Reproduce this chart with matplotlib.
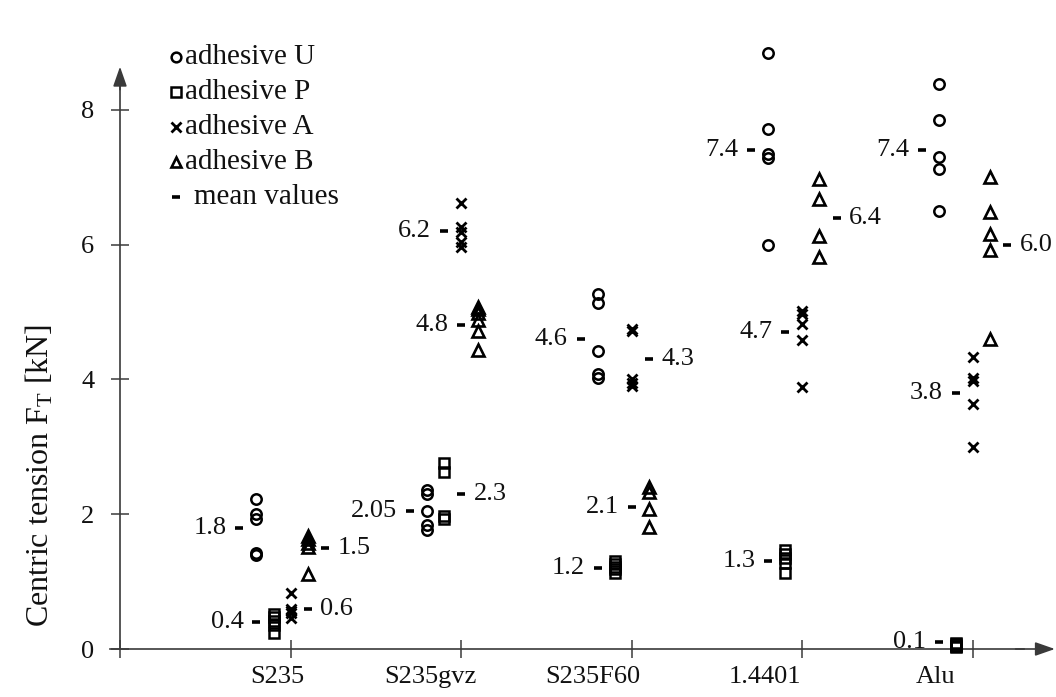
import matplotlib
matplotlib.use('Agg')
import matplotlib.pyplot as plt

plt.rcParams['font.family'] = ['Liberation Serif', 'DejaVu Serif']
plt.rcParams['mathtext.fontset'] = 'custom'
plt.rcParams['mathtext.rm'] = 'Liberation Serif'
plt.rcParams['mathtext.it'] = 'Liberation Serif:italic'

# ---------------- data ----------------
categories = ['S235', 'S235gvz', 'S235F60', '1.4401', 'Alu']
adhesive_names = ['adhesive U', 'adhesive P', 'adhesive A', 'adhesive B']

adhesive_U = [[2.22, 2.00, 1.93, 1.42, 1.40],
              [2.36, 2.30, 2.05, 1.84, 1.76],
              [5.27, 5.14, 4.42, 4.08, 4.02],
              [8.85, 7.72, 7.35, 7.28, 6.00],
              [8.38, 7.85, 7.30, 7.12, 6.50]]
adhesive_P = [[0.52, 0.47, 0.41, 0.35, 0.23],
              [2.76, 2.63, 1.97, 1.93],
              [1.30, 1.26, 1.22, 1.18, 1.13],
              [1.47, 1.41, 1.35, 1.28, 1.13],
              [0.09, 0.07, 0.05, 0.04, 0.03]]
adhesive_A = [[0.83, 0.60, 0.57, 0.53, 0.46],
              [6.62, 6.26, 6.19, 6.04, 5.97],
              [4.75, 4.72, 4.00, 3.95, 3.90],
              [5.02, 4.97, 4.82, 4.58, 3.88],
              [4.33, 4.02, 3.98, 3.64, 2.99]]
adhesive_B = [[1.67, 1.63, 1.57, 1.52, 1.11],
              [5.08, 5.04, 4.98, 4.88, 4.72, 4.43],
              [2.41, 2.33, 2.08, 1.81],
              [6.97, 6.67, 6.13, 5.82],
              [7.00, 6.48, 6.15, 5.92, 4.60]]

mean_U = [1.8, 2.05, 4.6, 7.4, 7.4]
mean_P = [0.4, 2.3, 1.2, 1.3, 0.1]
mean_A = [0.6, 6.2, 4.3, 4.7, 3.8]
mean_B = [1.5, 4.8, 2.1, 6.4, 6.0]

y_ticks = [0, 2, 4, 6, 8]
y_label = 'Centric tension F$_\\mathrm{T}$ [kN]'

# ---------------- layout / style ----------------
side_U = ['L', 'L', 'L', 'L', 'L']
side_P = ['L', 'R', 'L', 'L', 'L']
side_A = ['R', 'L', 'R', 'L', 'L']
side_B = ['R', 'L', 'L', 'R', 'R']
label_shift = [-0.08, -0.18, -0.23, -0.22, -0.22]

FS = 19
AXC = '#3a3a3a'
TXT = '#111111'

fig = plt.figure(figsize=(10.56, 6.97), dpi=100)
ax = fig.add_axes([108 / 1056, 0, 948 / 1056, 1])
ax.set_xlim(-12 / 170.6, 936 / 170.6)
ax.set_ylim(-48 / 67.4, 649 / 67.4)

series = [
    (adhesive_U, mean_U, side_U, -0.2, dict(marker='o', ms=7.5, mfc='none', mec='black', mew=1.8)),
    (adhesive_P, mean_P, side_P, -0.1, dict(marker='s', ms=7, mfc='none', mec='black', mew=1.8)),
    (adhesive_A, mean_A, side_A, 0.0, dict(marker='x', ms=7.5, mec='black', mew=2.0)),
    (adhesive_B, mean_B, side_B, 0.1, dict(marker='^', ms=8, mfc='none', mec='black', mew=1.9)),
]

for vals, means, sides, off, style in series:
    for ci, (pts, m, sd) in enumerate(zip(vals, means, sides)):
        xc = ci + 1 + off
        ax.plot([xc] * len(pts), pts, ls='none', clip_on=False, zorder=3, **style)
        if sd == 'L':
            ax.plot([xc - 0.1], [m], ls='none', marker='_', ms=6, mew=2.6, color='black', zorder=3)
            ax.text(xc - 0.175, m, str(m), ha='right', va='center', fontsize=FS, color=TXT)
        else:
            ax.plot([xc + 0.1], [m], ls='none', marker='_', ms=6, mew=2.6, color='black', zorder=3)
            ax.text(xc + 0.175, m, str(m), ha='left', va='center', fontsize=FS, color=TXT)

# axes lines
for s in ['top', 'right']:
    ax.spines[s].set_visible(False)
ax.spines['left'].set_position(('data', 0))
ax.spines['bottom'].set_position(('data', 0))
ax.spines['left'].set_bounds(0, 8.4)
ax.spines['bottom'].set_bounds(-0.06, 5.3)
for s in ['left', 'bottom']:
    ax.spines[s].set_color(AXC)
    ax.spines[s].set_linewidth(1.2)

arrow_kw = dict(arrowstyle='-|>,head_length=1.2,head_width=0.42', color=AXC, lw=1.2,
                mutation_scale=10, shrinkA=0, shrinkB=0)
ax.annotate('', xy=(0, 8.64), xytext=(0, 8.3), arrowprops=arrow_kw, annotation_clip=False)
ax.annotate('', xy=(5.48, 0), xytext=(5.25, 0), arrowprops=arrow_kw, annotation_clip=False)

ax.set_yticks(y_ticks)
ax.set_yticklabels([str(t) for t in y_ticks], fontsize=FS, color=TXT)
ax.set_xticks(range(len(categories) + 1))
ax.set_xticklabels([])
ax.tick_params(axis='both', direction='inout', length=13, width=1.1, color=AXC)
ax.tick_params(axis='y', pad=12)

for ci, (cat, sh) in enumerate(zip(categories, label_shift)):
    ax.text(ci + 1 + sh, -0.41, cat, ha='center', va='center', fontsize=FS, color=TXT, clip_on=False)

fig.text(40 / 1056, 1 - 475 / 697, y_label, rotation=90, ha='center', va='center',
         fontsize=23, color=TXT)

# legend (manual, top-left)
leg_items = [('o', dict(ms=7, mfc='none', mew=1.8)),
             ('s', dict(ms=7, mfc='none', mew=1.8)),
             ('x', dict(ms=7, mew=2.0)),
             ('^', dict(ms=7.5, mfc='none', mew=1.9)),
             ('_', dict(ms=6, mew=2.6))]
leg_labels = adhesive_names + ['mean values']
row_y = [57, 92, 127, 162, 197]
for (mk, kw), lab, py in zip(leg_items, leg_labels, row_y):
    xm = (176 - 120) / 170.6
    yv = (649 - py) / 67.4
    ax.plot([xm], [yv], ls='none', marker=mk, color='black', mec='black', **kw)
    xt = (185 - 120) / 170.6 if mk != '_' else (194 - 120) / 170.6
    ax.text(xt, yv, lab, ha='left', va='center', fontsize=FS + 2, color=TXT)

fig.savefig('out.png', dpi=100)
